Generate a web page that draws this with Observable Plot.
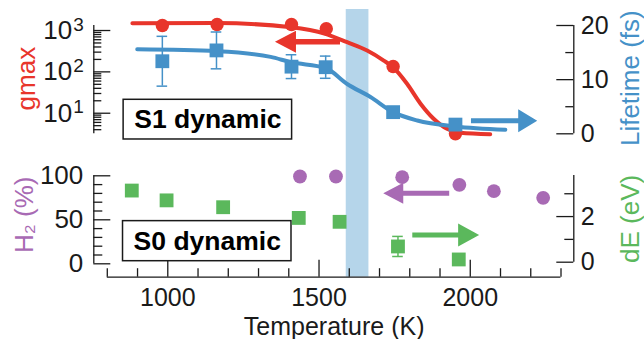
<!DOCTYPE html>
<html><head><meta charset="utf-8">
<script src="https://cdn.jsdelivr.net/npm/d3@7"></script>
<script src="https://cdn.jsdelivr.net/npm/@observablehq/plot@0.6"></script>
<style>
html,body{margin:0;padding:0;background:#fff;}
#chart{position:relative;width:644px;height:339px;overflow:hidden;background:#fff;}
#chart svg{position:absolute;left:0;top:0;}
</style></head><body><div id="chart"></div>
<script>
// ---------- data ----------
const gmaxT = [982, 1163, 1409, 1524, 1745, 1951];
const gmaxV = [1320, 1400, 1400, 1100, 135, 3.2];
const gmaxFitT = [883, 1163, 1409, 1521, 1593, 1659, 1714, 1745, 1791, 1835, 1878, 1923, 1967, 2066];
const gmaxFitV = [1500, 1510, 1200, 832, 521, 328, 188, 129, 51.4, 17.2, 7.45, 4.2, 3.36, 3.1];
const lifeT = [982, 1161, 1409, 1522, 1745, 1951];
const lifeV = [13.4, 15.4, 12.4, 12.3, 4.0, 1.7];
const lifeErr = [4.6, 3.4, 2.2, 2.05, 0, 0];
const lifeFitT = [899, 1163, 1340, 1409, 1522, 1593, 1670, 1745, 1825, 1951, 2116];
const lifeFitV = [15.6, 15.25, 14.2, 13.2, 12.15, 9.2, 6.8, 4.0, 2.45, 1.35, 0.75];
const h2T = [1437, 1556, 1775, 1964, 2078, 2241];
const h2V = [99.2, 99.2, 98.4, 89.8, 82.5, 75.0];
const dET = [881, 996, 1183, 1433, 1568, 1761, 1962];
const dEV = [3.14, 2.71, 2.41, 1.94, 1.77, 0.69, 0.12];
const dEErr = [0, 0, 0, 0, 0, 0.44, 0];
const transition = [1590, 1665];
const tempRange = [800, 2300];
const tempMajor = [1000, 1500, 2000];
const tempMinor = [800, 900, 1100, 1200, 1300, 1400, 1600, 1700, 1800, 1900, 2100, 2200, 2300];
const gmaxMajor = [10, 100, 1000];
const gmaxMinor = [4,5,6,7,8,9, 20,30,40,50,60,70,80,90, 200,300,400,500,600,700,800,900];
const lifeMajor = [0, 10, 20];
const lifeMinor = [5, 15];
const h2Major = [0, 50, 100];
const h2Minor = [10, 20, 30, 40, 60, 70, 80, 90];
const dEMajor = [0, 2];
const dEMinor = [1, 3];
const boxLabels = ["S1 dynamic", "S0 dynamic"];
const boxT = [[854, 1411], [852, 1409]];
const boxS1 = [-1.05, 6.28];   // lifetime units
const boxS0 = [0.044, 1.80];   // dE units
const arrowGmax = {from: 1571, to: 1356, at: 521};
const arrowLife = {from: 2004, to: 2223, at: 2.33};
const arrowH2 = {from: 1932, to: 1714, at: 79.5};
const arrowDE = {from: 1810, to: 2031, at: 1.17};

// ---------- style ----------
const red = "#e8352b", blue = "#4591c8", purple = "#a86ab4", green = "#5bb85c", band = "#b5d5ea", ink = "#1a1a1a";
const W = 644, H = 339, ML = 93.3, MR = 70.7;
const xDomain = [755.4, 2342.3];
const kPerPx = (xDomain[1] - xDomain[0]) / (W - ML - MR);
const font = "'Liberation Sans', Arial, Helvetica, sans-serif";

function layer(opts) {
  return Plot.plot({
    width: W, height: H, marginLeft: ML, marginRight: MR,
    x: {domain: xDomain, axis: null},
    style: {background: "transparent", fontFamily: font, overflow: "visible", color: ink},
    ...opts
  });
}
const leftTicks = (vals, len) => Plot.ruleY(vals, {y: d => d, x1: xDomain[0], x2: xDomain[0] + len * kPerPx, stroke: ink, strokeWidth: 1.3});
const rightTicks = (vals, len) => Plot.ruleY(vals, {y: d => d, x1: xDomain[1] - len * kPerPx, x2: xDomain[1], stroke: ink, strokeWidth: 1.3});

function addArrow(plot, a, color, headLen, headH, sw) {
  const sx = plot.scale("x"), sy = plot.scale("y");
  const x1 = sx.apply(a.from), x2 = sx.apply(a.to), y = sy.apply(a.at);
  const dir = Math.sign(x2 - x1);
  const hb = x2 - dir * headLen;
  const p = `M${x1},${y - sw/2}L${hb},${y - sw/2}L${hb},${y - headH/2}L${x2},${y}L${hb},${y + headH/2}L${hb},${y + sw/2}L${x1},${y + sw/2}Z`;
  d3.select(plot).append("path").attr("d", p).attr("fill", color);
}

const gmaxPts = gmaxT.map((T, i) => ({T, v: gmaxV[i]}));
const gmaxFit = gmaxFitT.map((T, i) => ({T, v: gmaxFitV[i]}));
const lifePts = lifeT.map((T, i) => ({T, v: lifeV[i], e: lifeErr[i]}));
const lifeFit = lifeFitT.map((T, i) => ({T, v: lifeFitV[i]}));
const h2Pts = h2T.map((T, i) => ({T, v: h2V[i]}));
const dEPts = dET.map((T, i) => ({T, v: dEV[i], e: dEErr[i]}));
const capK = 5.3 * kPerPx;

// ---------- layer: band + x axis ----------
const xTop = 267.7;
const lx = layer({
  marginTop: 9, marginBottom: H - 276.7,
  y: {domain: [0, xTop], axis: null},
  marks: [
    Plot.rect([transition], {x1: d => d[0], x2: d => d[1], y1: 0, y2: xTop, fill: band}),
    Plot.ruleY([0], {x1: tempRange[0], x2: tempRange[1], stroke: ink, strokeWidth: 1.3}),
    Plot.ruleX(tempMajor, {x: d => d, y1: 0, y2: 17, stroke: ink, strokeWidth: 1.3}),
    Plot.ruleX(tempMinor, {x: d => d, y1: 0, y2: 8.5, stroke: ink, strokeWidth: 1.3}),
    Plot.text(tempMajor, {x: d => d, y: 0, dy: 20.5, text: d => String(d), fontSize: 25, fill: ink}),
    Plot.text(["Temperature (K)"], {x: (tempRange[0] + tempRange[1]) / 2, y: 0, dy: 49.5, text: d => d, fontSize: 25, fill: ink})
  ]
});

// ---------- layer: gmax (top left) ----------
const ltl = layer({
  marginTop: 25, marginBottom: H - 133.3,
  y: {type: "log", domain: [3.18, 1322], axis: null},
  marks: [
    Plot.ruleX([xDomain[0]], {stroke: ink, strokeWidth: 1.3}),
    leftTicks(gmaxMajor, 17), leftTicks(gmaxMinor, 8),
    Plot.text(gmaxMajor, {x: xDomain[0], y: d => d, text: d => "10", dx: -21.6, textAnchor: "end", fontSize: 26, fill: ink}),
    Plot.text(gmaxMajor, {x: xDomain[0], y: d => d, text: d => String(Math.round(Math.log10(d))), dx: -20.6, dy: -6, textAnchor: "start", fontSize: 19, fill: ink}),
    Plot.text(["gmax"], {frameAnchor: "left", text: d => d, dx: -67, dy: -1, rotate: -90, textAnchor: "middle", fill: red, fontSize: 26}),
    Plot.line(gmaxFit, {x: "T", y: "v", stroke: red, strokeWidth: 4, curve: "monotone-x", strokeLinecap: "round"}),
    Plot.dot(gmaxPts, {x: "T", y: "v", r: 6.7, fill: red})
  ]
});
addArrow(ltl, arrowGmax, red, 21, 22, 5.5);

// ---------- layer: lifetime (top right) ----------
const ltr = layer({
  marginTop: 25, marginBottom: H - 133.3,
  y: {domain: [0, 20], axis: null},
  marks: [
    Plot.ruleX([xDomain[1]], {stroke: ink, strokeWidth: 1.3}),
    rightTicks(lifeMajor, 17), rightTicks(lifeMinor, 8),
    Plot.text(lifeMajor, {x: xDomain[1], y: d => d, text: d => String(d), dx: 7, textAnchor: "start", fontSize: 25, fill: ink}),
    Plot.text(["Lifetime (fs)"], {frameAnchor: "right", text: d => d, dx: 57, dy: -1.5, rotate: -90, textAnchor: "middle", fill: blue, fontSize: 26}),
    Plot.rect([0], {x1: boxT[0][0], x2: boxT[0][1], y1: boxS1[0], y2: boxS1[1], fill: "white", stroke: ink, strokeWidth: 1.5}),
    Plot.text([boxLabels[0]], {x: (boxT[0][0] + boxT[0][1]) / 2, y: (boxS1[0] + boxS1[1]) / 2, text: d => d, fontSize: 26.5, fontWeight: "bold", fill: "#000"}),
    Plot.line(lifeFit, {x: "T", y: "v", stroke: blue, strokeWidth: 4, curve: "monotone-x", strokeLinecap: "round"}),
    Plot.ruleX(lifePts.filter(d => d.e > 0), {x: "T", y1: d => d.v - d.e, y2: d => d.v + d.e, stroke: blue, strokeWidth: 1.5}),
    Plot.ruleY(lifePts.filter(d => d.e > 0), {y: d => d.v - d.e, x1: d => d.T - capK, x2: d => d.T + capK, stroke: blue, strokeWidth: 1.5}),
    Plot.ruleY(lifePts.filter(d => d.e > 0), {y: d => d.v + d.e, x1: d => d.T - capK, x2: d => d.T + capK, stroke: blue, strokeWidth: 1.5}),
    Plot.dot(lifePts, {x: "T", y: "v", r: 7.8, symbol: "square", fill: blue})
  ]
});
addArrow(ltr, arrowLife, blue, 19, 23, 5);

// ---------- layer: H2 (bottom left) ----------
const lbl = layer({
  marginTop: 175.3, marginBottom: H - 263.3,
  y: {domain: [0, 100], axis: null},
  marks: [
    Plot.ruleX([xDomain[0]], {stroke: ink, strokeWidth: 1.3}),
    leftTicks(h2Major, 17), leftTicks(h2Minor, 9),
    Plot.text(h2Major, {x: xDomain[0], y: d => d, text: d => String(d), dx: -10.5, textAnchor: "end", fontSize: 26, fill: ink}),
    Plot.text(["H₂ (%)"], {frameAnchor: "left", text: d => d, dx: -69, dy: -5, rotate: -90, textAnchor: "middle", fill: purple, fontSize: 26}),
    Plot.dot(h2Pts, {x: "T", y: "v", r: 6.9, fill: purple})
  ]
});
addArrow(lbl, arrowH2, purple, 20, 21, 5);

// ---------- layer: dE (bottom right) ----------
const lbr = layer({
  marginTop: 175, marginBottom: H - 261.7,
  y: {domain: [0, 3.80], axis: null},
  marks: [
    Plot.ruleX([xDomain[1]], {stroke: ink, strokeWidth: 1.3}),
    rightTicks(dEMajor, 17), rightTicks(dEMinor, 9),
    Plot.text(dEMajor, {x: xDomain[1], y: d => d, text: d => String(d), dx: 7, textAnchor: "start", fontSize: 25, fill: ink}),
    Plot.text(["dE (eV)"], {frameAnchor: "right", text: d => d, dx: 57, rotate: -90, textAnchor: "middle", fill: green, fontSize: 26}),
    Plot.rect([0], {x1: boxT[1][0], x2: boxT[1][1], y1: boxS0[0], y2: boxS0[1], fill: "white", stroke: ink, strokeWidth: 1.5}),
    Plot.text([boxLabels[1]], {x: (boxT[1][0] + boxT[1][1]) / 2, y: (boxS0[0] + boxS0[1]) / 2, text: d => d, fontSize: 26.5, fontWeight: "bold", fill: "#000"}),
    Plot.ruleX(dEPts.filter(d => d.e > 0), {x: "T", y1: d => d.v - d.e, y2: d => d.v + d.e, stroke: green, strokeWidth: 1.5}),
    Plot.ruleY(dEPts.filter(d => d.e > 0), {y: d => d.v - d.e, x1: d => d.T - capK, x2: d => d.T + capK, stroke: green, strokeWidth: 1.5}),
    Plot.ruleY(dEPts.filter(d => d.e > 0), {y: d => d.v + d.e, x1: d => d.T - capK, x2: d => d.T + capK, stroke: green, strokeWidth: 1.5}),
    Plot.dot(dEPts, {x: "T", y: "v", r: 7.8, symbol: "square", fill: green})
  ]
});
addArrow(lbr, arrowDE, green, 21, 23, 5);

const chart = document.getElementById("chart");
[lx, ltl, ltr, lbl, lbr].forEach(p => chart.appendChild(p));
</script></body></html>
